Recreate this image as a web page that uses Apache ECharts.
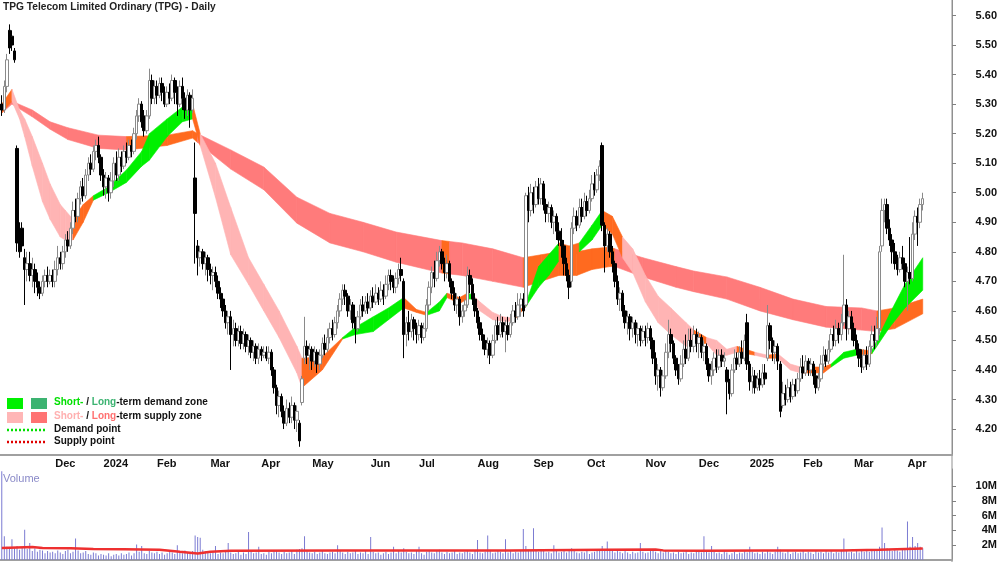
<!DOCTYPE html>
<html>
<head>
<meta charset="utf-8">
<title>TPG Telecom Limited Ordinary (TPG) - Daily</title>
<script src="https://cdn.jsdelivr.net/npm/echarts/dist/echarts.min.js"></script>
<style>
html, body { margin: 0; padding: 0; background: #fff; }
#main { width: 1000px; height: 562px; }
</style>
</head>
<body>
<div id="main"></div>
<script>
// daily bars, [open, close, low, high], from 2 Nov 2023
var ohlc = [
// 0
[5.30,5.28,5.26,5.33],[5.28,5.36,5.27,5.38],[5.36,5.45,5.34,5.47],[5.55,5.49,5.47,5.57],[5.53,5.50,5.48,5.55],
[5.48,5.45,5.44,5.49],[5.15,4.83,4.80,5.16],[4.85,4.80,4.78,4.90],[4.88,4.82,4.80,4.90],[4.78,4.74,4.62,4.81],
// 10
[4.74,4.76,4.70,4.80],[4.76,4.72,4.70,4.80],[4.72,4.74,4.68,4.78],[4.74,4.70,4.66,4.76],[4.70,4.68,4.65,4.73],
[4.68,4.66,4.64,4.70],[4.66,4.70,4.65,4.72],[4.70,4.72,4.68,4.74],[4.72,4.70,4.68,4.75],[4.70,4.72,4.69,4.74],
// 20
[4.72,4.70,4.68,4.74],[4.70,4.74,4.68,4.77],[4.74,4.78,4.72,4.82],[4.78,4.76,4.74,4.80],[4.76,4.80,4.74,4.82],
[4.80,4.84,4.78,4.86],[4.84,4.82,4.80,4.87],[4.82,4.88,4.81,4.90],[4.88,4.94,4.86,4.97],[4.94,4.92,4.90,4.98],
// 30
[4.92,4.98,4.90,5.00],[4.98,5.02,4.96,5.04],[5.02,4.99,4.97,5.05],[4.99,5.06,4.98,5.08],[5.06,5.10,5.04,5.12],
[5.10,5.08,5.06,5.13],[5.08,5.14,5.07,5.16],[5.14,5.16,5.11,5.18],[5.16,5.12,5.10,5.19],[5.12,5.06,5.04,5.13],
// 40
[5.06,5.02,4.99,5.08],[5.02,5.05,4.98,5.07],[5.05,5.00,4.97,5.06],[5.00,5.04,4.98,5.07],[5.04,5.10,5.02,5.12],
[5.10,5.06,5.04,5.14],[5.06,5.12,5.04,5.15],[5.12,5.09,5.07,5.14],[5.09,5.14,5.08,5.16],[5.14,5.12,5.10,5.17],
// 50
[5.12,5.16,5.11,5.18],[5.16,5.14,5.12,5.18],[5.14,5.20,5.13,5.22],[5.20,5.26,5.18,5.28],[5.26,5.30,5.24,5.32],
[5.30,5.24,5.22,5.31],[5.26,5.21,5.19,5.28],[5.21,5.26,5.20,5.28],[5.26,5.38,5.25,5.42],[5.38,5.32,5.30,5.40],
// 60
[5.32,5.36,5.30,5.38],[5.36,5.33,5.30,5.38],[5.33,5.37,5.32,5.39],[5.37,5.34,5.31,5.39],[5.34,5.30,5.29,5.36],
[5.30,5.34,5.29,5.36],[5.34,5.32,5.30,5.37],[5.32,5.38,5.31,5.40],[5.38,5.34,5.30,5.39],[5.34,5.30,5.26,5.36],
// 70
[5.30,5.36,5.29,5.38],[5.36,5.32,5.28,5.39],[5.32,5.28,5.25,5.34],[5.28,5.33,5.26,5.35],[5.33,5.28,5.22,5.34],
[5.28,5.32,5.27,5.35],[5.05,4.93,4.76,5.17],[4.82,4.78,4.72,4.84],[4.78,4.80,4.75,4.82],[4.80,4.76,4.74,4.81],
// 80
[4.76,4.78,4.72,4.80],[4.78,4.74,4.70,4.79],[4.74,4.72,4.69,4.76],[4.72,4.73,4.67,4.75],[4.73,4.70,4.68,4.75],
[4.70,4.66,4.64,4.72],[4.66,4.64,4.61,4.68],[4.64,4.60,4.58,4.66],[4.60,4.56,4.54,4.62],[4.56,4.58,4.52,4.60],
// 90
[4.58,4.52,4.40,4.60],[4.52,4.54,4.48,4.57],[4.54,4.50,4.48,4.56],[4.50,4.53,4.48,4.55],[4.53,4.49,4.47,4.55],
[4.49,4.52,4.47,4.54],[4.52,4.48,4.46,4.53],[4.48,4.50,4.45,4.52],[4.50,4.46,4.44,4.51],[4.46,4.48,4.43,4.50],
// 100
[4.48,4.44,4.42,4.49],[4.44,4.47,4.42,4.49],[4.47,4.45,4.43,4.48],[4.45,4.46,4.44,4.48],[4.46,4.44,4.43,4.48],
[4.44,4.46,4.42,4.48],[4.46,4.40,4.38,4.47],[4.40,4.34,4.32,4.41],[4.34,4.28,4.25,4.35],[4.28,4.31,4.24,4.33],
// 110
[4.31,4.26,4.24,4.32],[4.26,4.22,4.20,4.28],[4.22,4.27,4.21,4.30],[4.27,4.24,4.22,4.29],[4.24,4.28,4.22,4.31],
[4.28,4.23,4.20,4.29],[4.23,4.26,4.19,4.28],[4.22,4.16,4.14,4.23],[4.29,4.37,4.28,4.38],[4.44,4.48,4.42,4.58],
// 120
[4.48,4.45,4.42,4.50],[4.45,4.47,4.40,4.49],[4.47,4.43,4.40,4.48],[4.43,4.46,4.41,4.48],[4.46,4.42,4.39,4.47],
[4.42,4.45,4.40,4.47],[4.45,4.49,4.44,4.51],[4.49,4.47,4.45,4.52],[4.47,4.51,4.46,4.54],[4.51,4.54,4.49,4.56],
// 130
[4.54,4.52,4.50,4.57],[4.52,4.56,4.51,4.58],[4.56,4.60,4.54,4.62],[4.60,4.64,4.58,4.66],[4.64,4.67,4.62,4.69],
[4.67,4.65,4.62,4.69],[4.65,4.60,4.58,4.66],[4.60,4.62,4.57,4.64],[4.62,4.56,4.54,4.63],[4.56,4.54,4.49,4.58],
// 140
[4.54,4.58,4.53,4.60],[4.58,4.62,4.57,4.64],[4.62,4.60,4.58,4.65],[4.60,4.63,4.59,4.65],[4.63,4.61,4.59,4.66],
[4.61,4.65,4.60,4.67],[4.65,4.63,4.61,4.68],[4.63,4.66,4.62,4.69],[4.66,4.64,4.62,4.68],[4.64,4.67,4.63,4.70],
// 150
[4.67,4.65,4.62,4.69],[4.65,4.69,4.64,4.72],[4.69,4.72,4.67,4.74],[4.72,4.70,4.67,4.74],[4.70,4.68,4.66,4.72],
[4.68,4.71,4.66,4.73],[4.71,4.74,4.69,4.76],[4.74,4.72,4.70,4.78],[4.70,4.52,4.44,4.71],[4.52,4.56,4.48,4.58],
// 160
[4.56,4.53,4.50,4.60],[4.53,4.57,4.51,4.59],[4.57,4.54,4.50,4.58],[4.54,4.52,4.49,4.56],[4.52,4.55,4.50,4.57],
[4.55,4.51,4.49,4.56],[4.51,4.54,4.50,4.56],[4.54,4.62,4.53,4.64],[4.62,4.68,4.60,4.70],[4.68,4.73,4.66,4.75],
// 170
[4.73,4.71,4.68,4.77],[4.71,4.77,4.70,4.80],[4.77,4.80,4.75,4.82],[4.80,4.76,4.74,4.81],[4.76,4.73,4.70,4.78],
[4.73,4.76,4.71,4.79],[4.76,4.70,4.68,4.77],[4.70,4.66,4.64,4.71],[4.66,4.62,4.60,4.68],[4.62,4.64,4.59,4.66],
// 180
[4.64,4.58,4.55,4.65],[4.58,4.60,4.56,4.62],[4.60,4.62,4.58,4.64],[4.62,4.72,4.61,4.75],[4.72,4.69,4.66,4.74],
[4.69,4.64,4.62,4.71],[4.64,4.60,4.58,4.66],[4.60,4.56,4.54,4.61],[4.56,4.52,4.50,4.58],[4.52,4.50,4.47,4.54],
// 190
[4.50,4.47,4.45,4.52],[4.47,4.49,4.44,4.51],[4.49,4.45,4.42,4.50],[4.45,4.50,4.44,4.52],[4.50,4.55,4.49,4.57],
[4.55,4.52,4.50,4.58],[4.52,4.56,4.51,4.59],[4.56,4.53,4.51,4.58],[4.53,4.55,4.46,4.57],[4.55,4.52,4.50,4.58],
// 200
[4.52,4.56,4.51,4.59],[4.56,4.60,4.55,4.62],[4.60,4.58,4.56,4.63],[4.58,4.62,4.57,4.66],[4.62,4.64,4.58,4.66],
[4.64,4.60,4.58,4.66],[4.62,4.99,4.61,5.00],[4.99,4.94,4.90,5.02],[4.94,5.00,4.92,5.03],[5.00,4.96,4.93,5.02],
// 210
[4.96,5.02,4.95,5.04],[5.02,4.98,4.96,5.05],[4.98,5.03,4.96,5.05],[5.03,4.96,4.94,5.04],[4.96,4.93,4.90,4.98],
[4.93,4.95,4.90,4.97],[4.95,4.90,4.88,4.96],[4.90,4.92,4.86,4.94],[4.92,4.87,4.84,4.93],[4.87,4.84,4.82,4.90],
// 220
[4.84,4.82,4.78,4.88],[4.82,4.76,4.72,4.84],[4.76,4.72,4.70,4.78],[4.72,4.68,4.64,4.74],[4.70,4.88,4.68,4.90],
[4.88,4.92,4.86,4.95],[4.92,4.89,4.87,4.94],[4.89,4.95,4.88,4.98],[4.95,4.92,4.90,4.98],[4.92,4.97,4.91,5.00],
// 230
[4.97,4.94,4.92,4.99],[4.94,4.98,4.93,5.01],[4.98,5.03,4.97,5.06],[5.03,5.01,4.99,5.07],[5.01,5.06,5.00,5.08],
[5.06,5.09,5.04,5.11],[5.16,4.89,4.87,5.17],[4.89,4.82,4.73,4.90],[4.82,4.86,4.80,4.88],[4.86,4.80,4.78,4.87],
// 240
[4.80,4.76,4.73,4.82],[4.76,4.70,4.68,4.77],[4.70,4.64,4.62,4.72],[4.64,4.66,4.60,4.68],[4.66,4.60,4.58,4.67],
[4.60,4.56,4.54,4.62],[4.56,4.58,4.52,4.60],[4.58,4.54,4.50,4.59],[4.54,4.56,4.51,4.58],[4.56,4.52,4.49,4.57],
// 250
[4.52,4.54,4.48,4.56],[4.54,4.50,4.48,4.55],[4.50,4.53,4.49,4.55],[4.53,4.51,4.48,4.55],[4.51,4.54,4.49,4.56],
[4.54,4.50,4.47,4.55],[4.50,4.44,4.42,4.51],[4.44,4.38,4.35,4.46],[4.38,4.40,4.33,4.42],[4.40,4.34,4.31,4.41],
// 260
[4.34,4.38,4.33,4.40],[4.38,4.46,4.37,4.49],[4.46,4.52,4.44,4.57],[4.52,4.49,4.46,4.54],[4.49,4.44,4.42,4.50],
[4.44,4.40,4.38,4.45],[4.40,4.37,4.35,4.42],[4.37,4.42,4.36,4.45],[4.42,4.47,4.41,4.50],[4.47,4.44,4.42,4.52],
// 270
[4.44,4.50,4.43,4.54],[4.50,4.48,4.46,4.54],[4.48,4.52,4.46,4.55],[4.52,4.49,4.46,4.54],[4.49,4.51,4.44,4.53],
[4.51,4.46,4.44,4.52],[4.46,4.48,4.43,4.50],[4.48,4.42,4.40,4.49],[4.42,4.38,4.36,4.44],[4.38,4.40,4.35,4.43],
// 280
[4.40,4.44,4.38,4.46],[4.44,4.41,4.39,4.47],[4.41,4.45,4.40,4.47],[4.45,4.43,4.41,4.47],[4.43,4.44,4.41,4.46],
[4.40,4.36,4.25,4.41],[4.36,4.32,4.30,4.37],[4.32,4.40,4.31,4.42],[4.40,4.44,4.39,4.47],[4.44,4.42,4.40,4.46],
// 290
[4.42,4.46,4.41,4.48],[4.46,4.44,4.42,4.50],[4.44,4.50,4.43,4.52],[4.56,4.42,4.40,4.59],[4.42,4.36,4.33,4.43],
[4.36,4.38,4.32,4.41],[4.38,4.34,4.32,4.40],[4.34,4.37,4.33,4.39],[4.37,4.35,4.33,4.40],[4.35,4.39,4.34,4.42],
// 300
[4.39,4.37,4.35,4.42],[4.44,4.55,4.43,4.62],[4.55,4.50,4.47,4.56],[4.50,4.46,4.43,4.51],[4.46,4.48,4.42,4.50],
[4.48,4.43,4.40,4.49],[4.42,4.26,4.24,4.43],[4.28,4.32,4.27,4.36],[4.32,4.30,4.28,4.35],[4.30,4.34,4.29,4.37],
// 310
[4.34,4.31,4.29,4.36],[4.31,4.35,4.30,4.37],[4.35,4.33,4.31,4.37],[4.33,4.37,4.32,4.39],[4.37,4.41,4.36,4.44],
[4.41,4.39,4.37,4.45],[4.39,4.43,4.38,4.45],[4.43,4.40,4.38,4.44],[4.40,4.42,4.38,4.44],[4.42,4.38,4.35,4.43],
// 320
[4.38,4.34,4.32,4.40],[4.34,4.37,4.33,4.39],[4.37,4.42,4.36,4.45],[4.42,4.45,4.40,4.48],[4.45,4.43,4.41,4.47],
[4.43,4.47,4.42,4.50],[4.47,4.52,4.46,4.54],[4.52,4.50,4.48,4.55],[4.50,4.54,4.48,4.57],[4.54,4.52,4.49,4.56],
// 330
[4.52,4.56,4.50,4.59],[4.56,4.62,4.55,4.79],[4.62,4.54,4.50,4.64],[4.54,4.58,4.52,4.60],[4.58,4.54,4.50,4.60],
[4.54,4.50,4.48,4.56],[4.50,4.47,4.45,4.52],[4.47,4.44,4.41,4.49],[4.44,4.41,4.39,4.47],[4.41,4.45,4.40,4.47],
// 340
[4.45,4.42,4.40,4.48],[4.42,4.48,4.41,4.50],[4.48,4.52,4.46,4.55],[4.52,4.50,4.47,4.55],[4.50,4.54,4.48,4.58],
[4.54,4.80,4.52,4.82],[4.82,4.94,4.80,4.98],[4.94,4.96,4.90,4.98],[4.96,4.88,4.86,4.98],[4.88,4.84,4.82,4.91],
// 350
[4.84,4.80,4.76,4.86],[4.80,4.76,4.74,4.83],[4.76,4.74,4.72,4.79],[4.74,4.78,4.73,4.80],[4.78,4.76,4.74,4.82],
[4.76,4.70,4.68,4.78],[4.70,4.73,4.60,4.75],[4.73,4.71,4.69,4.85],[4.71,4.86,4.70,4.90],[4.86,4.92,4.84,4.94],
// 360
[4.92,4.90,4.82,4.95],[4.90,4.96,4.88,4.98],[4.96,4.98,4.94,5.00]
];

// volume, millions
var volume = [
12.0,3.2,1.8,1.5,2.8,1.6,1.9,1.4,1.7,4.1,1.5,2.3,1.2,1.6,1.1,1.4,1.3,0.9,1.2,1.0,
1.1,0.9,1.3,1.0,0.8,1.2,1.4,0.9,1.1,2.9,1.3,0.9,1.0,1.2,0.8,0.7,1.0,0.9,0.6,0.8,
0.7,0.6,0.9,0.5,0.7,0.8,0.6,0.9,0.7,0.8,1.0,0.6,0.9,2.1,1.1,1.9,0.9,0.8,1.2,1.0,
0.9,1.1,0.8,1.0,0.7,0.9,1.2,1.0,0.8,2.0,1.1,0.9,1.3,1.0,0.8,1.2,3.3,3.1,3.0,1.4,
1.2,1.0,0.9,1.1,1.9,0.8,1.0,0.9,1.2,2.3,1.0,0.8,0.9,1.1,0.7,1.0,0.8,3.8,1.2,0.9,
1.0,1.8,0.8,0.9,0.7,1.1,0.9,1.3,1.2,1.0,0.8,1.1,0.9,1.0,1.2,0.8,1.4,1.5,1.6,3.2,
1.3,1.0,0.9,1.1,0.8,1.0,1.2,0.9,0.8,1.0,1.1,0.9,2.0,1.2,1.0,0.8,1.1,0.9,1.0,1.3,
0.8,1.0,0.9,1.2,0.8,3.1,1.1,0.9,1.0,0.7,0.9,1.1,0.8,1.0,1.8,0.9,1.2,1.0,1.6,1.1,
0.9,1.0,0.8,1.2,1.8,0.9,0.7,1.1,1.3,1.0,0.9,1.2,1.4,1.0,0.8,1.1,0.9,1.0,1.2,0.8,
1.0,0.9,1.1,1.3,1.0,0.8,1.2,2.7,1.0,0.9,1.1,3.3,1.2,0.9,1.0,1.3,1.1,0.9,2.8,1.0,
1.2,0.9,1.1,1.0,1.3,4.2,1.9,1.4,1.2,4.3,1.3,1.1,1.5,1.2,1.0,1.1,0.9,2.0,1.2,1.0,
1.1,1.3,1.0,1.4,1.6,1.2,1.0,0.9,1.1,1.0,1.2,0.8,1.0,1.1,1.3,1.5,1.9,1.4,2.5,1.3,
1.2,1.0,1.4,1.1,0.9,1.2,1.0,0.8,1.1,0.9,1.0,2.3,1.1,0.9,1.0,1.2,1.4,1.1,0.9,1.3,
1.0,1.2,1.1,0.9,1.0,0.8,1.1,0.9,1.0,1.2,0.8,1.0,0.9,1.1,1.3,1.0,3.2,1.2,1.0,1.9,
1.1,0.9,1.0,0.8,1.2,1.0,0.7,0.9,1.1,0.8,1.0,0.9,1.2,1.0,1.8,1.1,0.9,1.0,0.8,1.1,
0.9,1.3,1.0,0.8,1.1,1.8,1.4,1.0,0.9,1.2,0.8,1.0,1.1,0.9,1.0,1.2,0.9,1.1,1.0,0.8,
1.2,1.0,1.1,0.9,1.3,1.0,1.2,0.9,1.1,1.0,1.4,2.9,1.2,1.0,1.1,0.9,1.3,1.0,1.2,1.1,
1.4,1.1,1.3,1.2,1.5,1.8,4.4,2.3,1.6,1.4,1.2,1.5,1.3,1.1,1.4,1.6,5.2,1.8,3.1,1.9,
2.3,1.8,1.6
];

// volume average line: [bar index, millions]
var volumeAvg = [
[0,1.63],[12,1.77],[16,1.63],[27,1.58],[36,1.50],[48,1.45],[62,1.40],[70,1.10],[77,0.88],
[82,1.12],[90,1.25],[134,1.28],[200,1.30],[237,1.40],[257,1.42],[260,1.30],[275,1.26],
[300,1.28],[330,1.30],[345,1.40],[362,1.55]
];

// zones: [bar index, lower, upper, colour code of the stretch that starts here]
// colour codes: 0 orange, 1 short supply, 2 short demand, 3 long supply
var shortZone = [
[0,5.27,5.30,0],[4,5.31,5.35,1],[7,5.25,5.28,1],[9,5.19,5.25,1],[12,5.09,5.19,1],
[16,4.97,5.10,1],[19,4.91,5.03,1],[23,4.85,4.96,1],[25,4.84,4.94,1],[28,4.84,4.91,0],
[32,4.90,4.96,0],[36,4.975,4.99,2],[42,5.00,5.02,2],[49,5.035,5.077,2],[55,5.09,5.14,2],
[58,5.11,5.20,2],[65,5.19,5.25,2],[71,5.24,5.29,2],[75,5.25,5.30,0],[78,5.16,5.20,1],
[84,4.985,5.10,1],[90,4.79,4.95,1],[97,4.69,4.78,1],[103,4.60,4.69,1],[109,4.51,4.60,1],
[116,4.39,4.48,1],[118,4.34,4.44,0],[126,4.40,4.445,0],[134,4.505,4.51,2],[139,4.52,4.545,2],
[146,4.53,4.58,2],[152,4.57,4.61,2],[158,4.61,4.645,0],[163,4.595,4.605,0],[167,4.585,4.595,2],
[172,4.60,4.63,2],[175,4.645,4.66,0],[180,4.625,4.645,0],[183,4.64,4.66,2],[185,4.64,4.655,1],
[188,4.60,4.63,1],[193,4.57,4.595,1],[197,4.565,4.58,1],[201,4.565,4.575,0],[206,4.615,4.625,2],
[211,4.68,4.75,2],[215,4.72,4.79,2],[219,4.77,4.83,0],[223,4.78,4.82,0],[227,4.80,4.83,2],
[232,4.84,4.89,2],[236,4.89,4.94,0],[240,4.86,4.92,0],[244,4.78,4.85,1],[248,4.73,4.81,1],
[253,4.63,4.72,1],[258,4.56,4.65,1],[263,4.52,4.61,1],[269,4.48,4.56,1],[272,4.49,4.535,0],
[277,4.49,4.51,1],[281,4.45,4.50,1],[285,4.45,4.47,1],[289,4.46,4.48,0],[296,4.45,4.46,1],
[301,4.44,4.45,0],[305,4.44,4.455,1],[310,4.40,4.42,1],[314,4.39,4.41,0],[323,4.39,4.41,0],
[326,4.41,4.42,2],[331,4.44,4.46,2],[336,4.45,4.47,0],[342,4.455,4.465,2],[349,4.545,4.59,2],
[355,4.61,4.69,2],[362,4.67,4.78,2]
];
var longZone = [
[0,5.27,5.29,3],[4,5.30,5.31,3],[12,5.257,5.28,3],[19,5.215,5.24,3],[26,5.18,5.22,3],
[38,5.15,5.195,3],[49,5.145,5.19,0],[65,5.16,5.195,0],[75,5.185,5.21,0],[77,5.17,5.20,3],
[90,5.08,5.145,3],[103,5.01,5.087,3],[116,4.897,4.985,3],[129,4.83,4.93,3],[142,4.80,4.90,3],
[155,4.765,4.867,3],[173,4.728,4.838,0],[176,4.725,4.835,3],[181,4.72,4.83,3],[193,4.70,4.81,3],
[205,4.68,4.78,0],[212,4.70,4.79,0],[219,4.72,4.80,0],[226,4.72,4.80,0],[232,4.74,4.81,0],
[239,4.75,4.816,0],[241,4.75,4.81,3],[252,4.715,4.78,3],[265,4.68,4.75,3],[272,4.665,4.735,3],
[285,4.64,4.715,3],[298,4.60,4.68,3],[311,4.57,4.64,3],[324,4.545,4.615,3],[338,4.535,4.61,3],
[344,4.53,4.60,0],[351,4.54,4.61,0],[362,4.59,4.64,0]
];

var priceTicks = [4.2, 4.3, 4.4, 4.5, 4.6, 4.7, 4.8, 4.9, 5.0, 5.1, 5.2, 5.3, 5.4, 5.5, 5.6];
var volumeTicks = [2, 4, 6, 8, 10];
var holidays = ['2023-12-25','2023-12-26','2024-01-01','2024-01-26','2024-03-29','2024-04-01',
  '2024-04-25','2024-06-10','2024-12-25','2024-12-26','2025-01-01','2025-01-27'];
var monthNames = ['Jan','Feb','Mar','Apr','May','Jun','Jul','Aug','Sep','Oct','Nov','Dec'];

var zoneColors = ['#FF6A1F', '#FFB4B4', '#00F000', '#FF7B7B'];
var FONT = 'Liberation Sans';

// trading days, plus some empty slots on the right
var slots = 374;
var dates = [];
var d = new Date(Date.UTC(2023, 10, 2));
while (dates.length < slots) {
  var wd = d.getUTCDay();
  var s = d.toISOString().slice(0, 10);
  if (wd !== 0 && wd !== 6 && holidays.indexOf(s) < 0) dates.push(s);
  d.setUTCDate(d.getUTCDate() + 1);
}
function isMonthStart(i) {
  return i > 0 && dates[i].slice(5, 7) !== dates[i - 1].slice(5, 7);
}
function monthLabel(v) {
  var m = +v.slice(5, 7);
  return m === 1 ? v.slice(0, 4) : monthNames[m - 1];
}

function toSegments(z) {
  var out = [];
  for (var k = 0; k < z.length - 1; k++) {
    out.push([z[k][0], z[k][1], z[k][2], z[k + 1][0], z[k + 1][1], z[k + 1][2], z[k][3]]);
  }
  return out;
}
function zoneItem(params, api) {
  var p1 = api.coord([api.value(0), api.value(1)]);
  var p2 = api.coord([api.value(0), api.value(2)]);
  var p3 = api.coord([api.value(3), api.value(5)]);
  var p4 = api.coord([api.value(3), api.value(4)]);
  var col = zoneColors[api.value(6)];
  return {
    type: 'polygon',
    shape: { points: [p1, p2, p3, p4] },
    style: { fill: col, stroke: col, lineWidth: 0.6 }
  };
}

// y range so that 5.60 and 4.20 land where the reference has them
var pxPerDollar = 295.4;
var priceMax = 5.6 + 15.5 / pxPerDollar;
var priceMin = 5.6 - (455 - 15.5) / pxPerDollar;

var chart = echarts.init(document.getElementById('main'));
var option = {
  animation: false,
  backgroundColor: '#ffffff',
  title: {
    text: 'TPG Telecom Limited Ordinary (TPG) - Daily',
    left: 3, top: 2, padding: 0,
    textStyle: { fontFamily: FONT, fontSize: 10.2, fontWeight: 'bold', color: '#222' }
  },
  grid: [
    { left: 0.5, right: 48, top: 0, height: 455 },
    { left: 0.5, right: 48, top: 469, height: 91 }
  ],
  xAxis: [
    {
      type: 'category', gridIndex: 0, data: dates, boundaryGap: true,
      axisLine: { lineStyle: { color: '#a0a0a0', width: 2 } },
      axisTick: { interval: isMonthStart, length: 4, lineStyle: { color: '#808080' } },
      axisLabel: {
        interval: isMonthStart, formatter: monthLabel, align: 'left', margin: 3,
        fontFamily: FONT, fontSize: 11, fontWeight: 'bold', color: '#111'
      },
      splitLine: { show: false }
    },
    {
      type: 'category', gridIndex: 1, data: dates, boundaryGap: true, position: 'top',
      axisLine: { lineStyle: { color: '#a0a0a0', width: 2 } },
      axisTick: { show: false }, axisLabel: { show: false }, splitLine: { show: false }
    }
  ],
  yAxis: [
    {
      type: 'value', gridIndex: 0, position: 'right', min: priceMin, max: priceMax,
      splitLine: { show: false },
      axisLine: { show: true, lineStyle: { color: '#909090' } },
      axisTick: { show: true, length: 4, customValues: priceTicks, lineStyle: { color: '#808080' } },
      axisLabel: {
        customValues: priceTicks, align: 'right', margin: 45,
        formatter: function (v) { return v.toFixed(2); },
        fontFamily: FONT, fontSize: 11, fontWeight: 'bold', color: '#111'
      }
    },
    {
      type: 'value', gridIndex: 1, position: 'right', min: 0, max: 12.3,
      splitLine: { show: false },
      axisLine: { show: true, lineStyle: { color: '#909090' } },
      axisTick: { show: true, length: 4, customValues: volumeTicks, lineStyle: { color: '#808080' } },
      axisLabel: {
        customValues: volumeTicks, align: 'right', margin: 45,
        formatter: function (v) { return v + 'M'; },
        fontFamily: FONT, fontSize: 11, fontWeight: 'bold', color: '#111'
      }
    }
  ],
  series: [
    {
      name: 'long zone', type: 'custom', xAxisIndex: 0, yAxisIndex: 0,
      data: toSegments(longZone), renderItem: zoneItem, z: 1, silent: true, clip: true
    },
    {
      name: 'short zone', type: 'custom', xAxisIndex: 0, yAxisIndex: 0,
      data: toSegments(shortZone), renderItem: zoneItem, z: 2, silent: true, clip: true
    },
    {
      name: 'TPG', type: 'candlestick', xAxisIndex: 0, yAxisIndex: 0,
      data: ohlc, barWidth: 3, z: 5,
      itemStyle: {
        color: '#ffffff', color0: '#000000',
        borderColor: '#8a8a8a', borderColor0: '#000000', borderWidth: 1
      }
    },
    {
      name: 'Volume', type: 'bar', xAxisIndex: 1, yAxisIndex: 1,
      data: volume, barWidth: 1, itemStyle: { color: '#7b7bd2' }
    },
    {
      name: 'Volume average', type: 'line', xAxisIndex: 1, yAxisIndex: 1,
      data: volumeAvg, symbol: 'none', z: 4,
      lineStyle: { color: '#ee3030', width: 2.5 }
    }
  ],
  graphic: [
    { type: 'line', shape: { x1: 952, y1: 0, x2: 952, y2: 562 }, style: { stroke: '#909090', lineWidth: 1 } },
    { type: 'text', left: 3, top: 473,
      style: { text: 'Volume', fill: '#8a8ac8', font: '11px "Liberation Sans"' } },
    { type: 'rect', shape: { x: 7, y: 398, width: 16, height: 11 }, style: { fill: '#00F000' } },
    { type: 'rect', shape: { x: 31, y: 398, width: 16, height: 11 }, style: { fill: '#3CB371' } },
    { type: 'rect', shape: { x: 7, y: 412, width: 16, height: 11 }, style: { fill: '#FFB6B6' } },
    { type: 'rect', shape: { x: 31, y: 412, width: 16, height: 11 }, style: { fill: '#FF7373' } },
    { type: 'line', shape: { x1: 7, y1: 430, x2: 46, y2: 430 },
      style: { stroke: '#00E000', lineWidth: 2.5, lineDash: [2, 2] } },
    { type: 'line', shape: { x1: 7, y1: 442, x2: 46, y2: 442 },
      style: { stroke: '#E00000', lineWidth: 2.5, lineDash: [2, 2] } },
    { type: 'text', x: 54, y: 397,
      style: {
        text: '{g|Short-}{k| / }{dg|Long}{k|-term demand zone}',
        rich: {
          g: { fill: '#00E000', fontFamily: FONT, fontSize: 10, fontWeight: 'bold' },
          dg: { fill: '#3CB371', fontFamily: FONT, fontSize: 10, fontWeight: 'bold' },
          k: { fill: '#111', fontFamily: FONT, fontSize: 10, fontWeight: 'bold' }
        }
      } },
    { type: 'text', x: 54, y: 411,
      style: {
        text: '{p|Short-}{k| / }{r|Long}{k|-term supply zone}',
        rich: {
          p: { fill: '#FFB0B0', fontFamily: FONT, fontSize: 10, fontWeight: 'bold' },
          r: { fill: '#FF7070', fontFamily: FONT, fontSize: 10, fontWeight: 'bold' },
          k: { fill: '#111', fontFamily: FONT, fontSize: 10, fontWeight: 'bold' }
        }
      } },
    { type: 'text', x: 54, y: 424,
      style: { text: 'Demand point', fill: '#111', font: 'bold 10px "Liberation Sans"' } },
    { type: 'text', x: 54, y: 436,
      style: { text: 'Supply point', fill: '#111', font: 'bold 10px "Liberation Sans"' } }
  ]
};
chart.setOption(option);
</script>
</body>
</html>
